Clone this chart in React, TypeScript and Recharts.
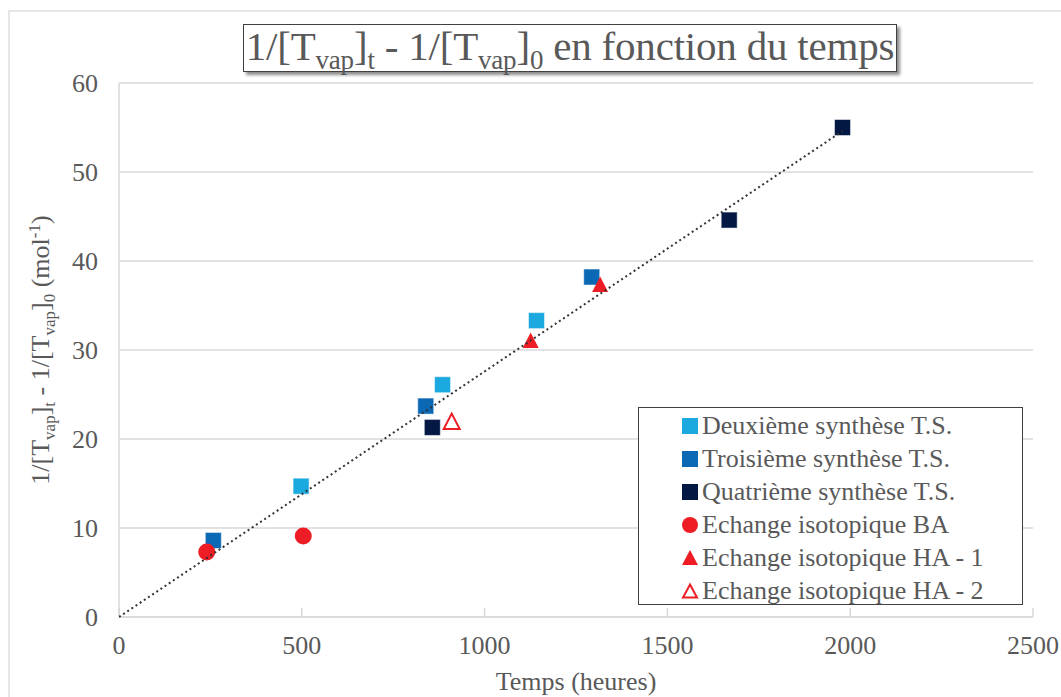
import React from 'react';
import { ScatterChart, Scatter, XAxis, YAxis, CartesianGrid, Legend, Label } from 'recharts';

const deuxieme = [{ x: 498, y: 14.7 }, { x: 885, y: 26.1 }, { x: 1142, y: 33.3 }];
const troisieme = [{ x: 258, y: 8.6 }, { x: 839, y: 23.7 }, { x: 1293, y: 38.2 }];
const quatrieme = [{ x: 857, y: 21.3 }, { x: 1669, y: 44.6 }, { x: 1979, y: 55.0 }];
const echangeBA = [{ x: 240, y: 7.3 }, { x: 504, y: 9.1 }];
const echangeHA1 = [{ x: 1126, y: 31.0 }, { x: 1316, y: 37.3 }];
const echangeHA2 = [{ x: 910, y: 21.9 }];
const trend = [{ x: 0, y: 0 }, { x: 1979, y: 54.6 }];
const xTicks = [0, 500, 1000, 1500, 2000, 2500];
const yTicks = [0, 10, 20, 30, 40, 50, 60];

const FONT = '"Liberation Serif", "Times New Roman", serif';
const TEXT = '#595959';
const C_LIGHT = '#1BA9E0';
const C_MID = '#0B68B5';
const C_NAVY = '#031842';
const C_RED = '#EE1C25';

const Square = (color: string) => (p: any) => (
  <rect x={p.cx - 8} y={p.cy - 8} width={16} height={16} fill={color} stroke="rgba(255,255,255,0.5)" strokeWidth={1} />
);
const Dot = (color: string) => (p: any) => <circle cx={p.cx} cy={p.cy} r={8.5} fill={color} />;
const Tri = (color: string, filled: boolean) => (p: any) => (
  <polygon
    points={`${p.cx},${p.cy - 8.5} ${p.cx + 8},${p.cy + 7} ${p.cx - 8},${p.cy + 7}`}
    fill={filled ? color : '#fff'}
    stroke={color}
    strokeWidth={filled ? 0 : 2}
  />
);
const NoShape = () => <g />;

const legendItems = [
  { name: 'Deuxième synthèse T.S.', icon: 'sq', color: C_LIGHT },
  { name: 'Troisième synthèse T.S.', icon: 'sq', color: C_MID },
  { name: 'Quatrième synthèse T.S.', icon: 'sq', color: C_NAVY },
  { name: 'Echange isotopique BA', icon: 'ci', color: C_RED },
  { name: 'Echange isotopique HA - 1', icon: 'tri', color: C_RED },
  { name: 'Echange isotopique HA - 2', icon: 'otri', color: C_RED },
];

const LegendIcon = ({ icon, color }: { icon: string; color: string }) => (
  <svg width={18} height={18} style={{ display: 'block', flex: 'none' }}>
    {icon === 'sq' && <rect x={1} y={1} width={16} height={16} fill={color} />}
    {icon === 'ci' && <circle cx={9} cy={9} r={8} fill={color} />}
    {icon === 'tri' && <polygon points="9,1 17,16 1,16" fill={color} />}
    {icon === 'otri' && <polygon points="9,2.5 16,15.5 2,15.5" fill="#fff" stroke={color} strokeWidth={2} />}
  </svg>
);

const LegendBox = () => (
  <div
    style={{
      width: 385,
      height: 198,
      boxSizing: 'border-box',
      border: '1px solid #404040',
      background: '#fff',
      paddingTop: 1,
      fontFamily: FONT,
      textAlign: 'left',
    }}
  >
    {legendItems.map((it) => (
      <div key={it.name} style={{ display: 'flex', alignItems: 'center', height: 33, paddingLeft: 42 }}>
        <LegendIcon icon={it.icon} color={it.color} />
        <span style={{ marginLeft: 3, fontSize: 26, color: TEXT, whiteSpace: 'nowrap', lineHeight: '33px', fontFamily: FONT }}>{it.name}</span>
      </div>
    ))}
  </div>
);

const YLabel = (props: any) => {
  const vb = props.viewBox || { x: 0, y: 0, width: 0, height: 0 };
  const cx = vb.x + 41;
  const cy = vb.y + vb.height / 2;
  const sub = { fontSize: 17 };
  return (
    <text
      x={cx}
      y={cy}
      transform={`rotate(-90, ${cx}, ${cy})`}
      textAnchor="middle"
      fill={TEXT}
      fontFamily={FONT}
      fontSize={26}
    >
      <tspan>1/[T</tspan>
      <tspan {...sub} dy={6}>vap</tspan>
      <tspan dy={-6}>]</tspan>
      <tspan {...sub} dy={6}>t</tspan>
      <tspan dy={-6}> - 1/[T</tspan>
      <tspan {...sub} dy={6}>vap</tspan>
      <tspan dy={-6}>]</tspan>
      <tspan {...sub} dy={6}>0</tspan>
      <tspan dy={-6}> (mol</tspan>
      <tspan {...sub} dy={-9}>-1</tspan>
      <tspan dy={9}>)</tspan>
    </text>
  );
};

const subStyle: React.CSSProperties = { fontSize: 27, verticalAlign: -9, lineHeight: 0 };

export default function App() {
  return (
    <div
      style={{
        position: 'fixed',
        left: 0,
        top: 0,
        width: 1061,
        height: 697,
        overflow: 'hidden',
        background: '#fff',
        fontFamily: FONT,
      }}
    >
      <div style={{ position: 'absolute', left: 8, top: 8, width: 1053, height: 689 }}>
        <div
          style={{
            position: 'absolute',
            left: 0,
            top: 2,
            width: 1200,
            height: 800,
            borderTop: '2px solid #e6e6e6',
            borderLeft: '2px solid #e6e6e6',
          }}
        />
        <ScatterChart width={1053} height={689} margin={{ top: 75, right: 28, left: 0, bottom: 0 }} style={{ fontFamily: FONT, overflow: 'visible' }}>
          <CartesianGrid horizontal vertical={false} stroke="#d9d9d9" strokeWidth={1.3} />
          <XAxis
            type="number"
            dataKey="x"
            domain={[0, 2500]}
            ticks={xTicks}
            height={80}
            stroke="#d9d9d9"
            strokeWidth={1.5}
            tickSize={-9}
            tickMargin={28}
            tick={{ fill: TEXT, fontSize: 26, fontFamily: FONT }}
            allowDataOverflow
          >
            <Label value="Temps (heures)" position="insideBottom" offset={7} fill={TEXT} fontSize={26} fontFamily={FONT} />
          </XAxis>
          <YAxis
            type="number"
            dataKey="y"
            domain={[0, 60]}
            ticks={yTicks}
            width={111}
            stroke="#d9d9d9"
            strokeWidth={1.5}
            tickLine={false}
            tickSize={0}
            tickMargin={21}
            tick={{ fill: TEXT, fontSize: 26, fontFamily: FONT }}
          >
            <Label content={<YLabel />} />
          </YAxis>
          <Legend
            content={() => <LegendBox />}
            layout="vertical"
            align="center"
            verticalAlign="middle"
            wrapperStyle={{ left: 630, top: 399, width: 385, height: 198 }}
          />
          <Scatter name="Deuxième synthèse T.S." data={deuxieme} fill={C_LIGHT} shape={Square(C_LIGHT)} isAnimationActive={false} />
          <Scatter name="Troisième synthèse T.S." data={troisieme} fill={C_MID} shape={Square(C_MID)} isAnimationActive={false} />
          <Scatter name="Quatrième synthèse T.S." data={quatrieme} fill={C_NAVY} shape={Square(C_NAVY)} isAnimationActive={false} />
          <Scatter name="Echange isotopique BA" data={echangeBA} fill={C_RED} shape={Dot(C_RED)} isAnimationActive={false} />
          <Scatter name="Echange isotopique HA - 1" data={echangeHA1} fill={C_RED} shape={Tri(C_RED, true)} isAnimationActive={false} />
          <Scatter name="Echange isotopique HA - 2" data={echangeHA2} fill={C_RED} shape={Tri(C_RED, false)} isAnimationActive={false} />
          <Scatter
            name="trend"
            data={trend}
            line={{ stroke: '#333', strokeWidth: 2, strokeDasharray: '2 3' }}
            shape={NoShape}
            legendType="none"
            isAnimationActive={false}
          />
        </ScatterChart>
        <div
          style={{
            position: 'absolute',
            left: 235,
            top: 16,
            width: 654,
            height: 48,
            boxSizing: 'border-box',
            border: '1.5px solid #404040',
            background: '#fff',
            boxShadow: '3px 3px 3px rgba(0,0,0,0.45)',
            color: TEXT,
            fontSize: 41,
            lineHeight: '42px',
            textAlign: 'center',
            whiteSpace: 'nowrap',
            letterSpacing: -0.2,
          }}
        >
          1/[T<sub style={subStyle}>vap</sub>]<sub style={subStyle}>t</sub> - 1/[T<sub style={subStyle}>vap</sub>]<sub style={subStyle}>0</sub> en fonction du temps
        </div>
      </div>
    </div>
  );
}
